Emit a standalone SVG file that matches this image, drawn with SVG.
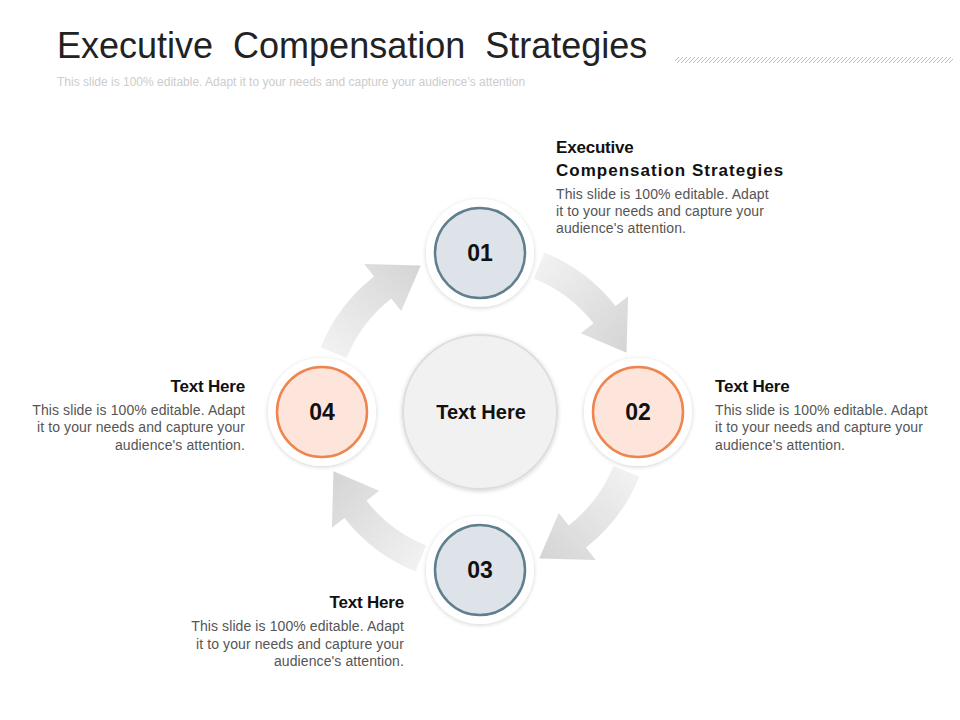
<svg xmlns="http://www.w3.org/2000/svg" width="960" height="720" viewBox="0 0 960 720">
<defs>
<linearGradient id="ag" x1="0" y1="0" x2="1" y2="1"><stop offset="0" stop-color="#f4f4f4"/><stop offset="1" stop-color="#d4d4d4"/></linearGradient>
<pattern id="hatch" width="4" height="4" patternUnits="userSpaceOnUse"><path d="M0,4 L4,0" stroke="#bbb" stroke-width="1"/></pattern>
<filter id="sh" x="-20%" y="-20%" width="140%" height="140%"><feDropShadow dx="0" dy="1" stdDeviation="2" flood-color="#000" flood-opacity="0.18"/></filter>
</defs>
<style>
text{font-family:"Liberation Sans",Arial,sans-serif}
.h{font-size:17px;font-weight:bold;fill:#111;letter-spacing:-0.2px}
.b{font-size:14px;fill:#555;letter-spacing:0.1px}
.n{font-size:23px;font-weight:bold;fill:#111;text-anchor:middle}
.w{fill:#fff;filter:url(#sh)}
.arrow{fill:url(#ag)}
</style>
<rect width="960" height="720" fill="#fff"/>
<text x="57" y="58" font-size="36" fill="#222" word-spacing="10">Executive Compensation Strategies</text>
<text x="57" y="86" font-size="12" fill="#ccc">This slide is 100% editable. Adapt it to your needs and capture your audience’s attention</text>
<rect x="675" y="57" width="278" height="6" fill="url(#hatch)"/>
<g id="connectors">
<path id="a1" class="arrow" d="M544.4,252.5 A172,172 0 0 1 615.5,306.1 L628.1,296.2 L626.5,352.8 L580.9,333.2 L593.5,323.3 A144,144 0 0 0 533.9,278.5 Z"/>
<use href="#a1" transform="rotate(90 480 412)"/>
<use href="#a1" transform="rotate(180 480 412)"/>
<use href="#a1" transform="rotate(270 480 412)"/>
</g>
<g id="center"><circle cx="480" cy="412" r="77" fill="#f1f1f1" stroke="#ddd" stroke-width="2" filter="url(#sh)"/><text x="481" y="419" font-size="20" font-weight="bold" fill="#111" text-anchor="middle">Text Here</text></g>
<g id="n01"><circle class="w" cx="480" cy="253" r="54"/><circle cx="480" cy="253" r="45" fill="#dde3e8" stroke="#5f7f8e" stroke-width="2.5"/><text class="n" x="480" y="261">01</text></g>
<g id="n02"><circle class="w" cx="638" cy="412" r="54"/><circle cx="638" cy="412" r="45" fill="#fde5dc" stroke="#f0844f" stroke-width="2.5"/><text class="n" x="638" y="420">02</text></g>
<g id="n03"><circle class="w" cx="480" cy="570" r="54"/><circle cx="480" cy="570" r="45" fill="#dde3e8" stroke="#5f7f8e" stroke-width="2.5"/><text class="n" x="480" y="578">03</text></g>
<g id="n04"><circle class="w" cx="322" cy="412" r="54"/><circle cx="322" cy="412" r="45" fill="#fde5dc" stroke="#f0844f" stroke-width="2.5"/><text class="n" x="322" y="420">04</text></g>
<g id="t1"><text class="h" x="556" y="153">Executive</text><text class="h" x="556" y="176" textLength="227">Compensation Strategies</text>
<text class="b" x="556" y="199">This slide is 100% editable. Adapt</text><text class="b" x="556" y="216">it to your needs and capture your</text><text class="b" x="556" y="233">audience's attention.</text></g>
<g id="t2"><text class="h" x="715" y="392">Text Here</text>
<text class="b" x="715" y="415">This slide is 100% editable. Adapt</text><text class="b" x="715" y="432">it to your needs and capture your</text><text class="b" x="715" y="450">audience's attention.</text></g>
<g id="t4" text-anchor="end"><text class="h" x="245" y="392">Text Here</text>
<text class="b" x="245" y="415">This slide is 100% editable. Adapt</text><text class="b" x="245" y="432">it to your needs and capture your</text><text class="b" x="245" y="450">audience's attention.</text></g>
<g id="t3" text-anchor="end"><text class="h" x="404" y="608">Text Here</text>
<text class="b" x="404" y="631">This slide is 100% editable. Adapt</text><text class="b" x="404" y="649">it to your needs and capture your</text><text class="b" x="404" y="666">audience's attention.</text></g>
</svg>
